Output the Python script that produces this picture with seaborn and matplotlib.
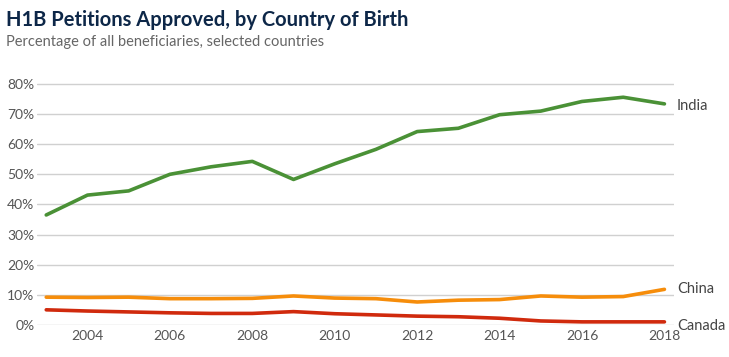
import numpy as np
import pandas as pd
import matplotlib
matplotlib.use("Agg")
import matplotlib.pyplot as plt
import seaborn as sns

# data (percent of beneficiaries)
years = list(range(2003, 2019))
india = [36.5, 43.1, 44.5, 50.0, 52.5, 54.3, 48.3, 53.5, 58.3, 64.2, 65.3, 69.8, 71.0, 74.2, 75.6, 73.4]
china = [9.2, 9.1, 9.2, 8.7, 8.7, 8.8, 9.6, 8.9, 8.7, 7.6, 8.2, 8.4, 9.6, 9.2, 9.4, 11.8]
canada = [5.0, 4.6, 4.3, 4.0, 3.8, 3.8, 4.4, 3.7, 3.3, 2.9, 2.7, 2.2, 1.3, 1.0, 1.0, 1.0]
countries = ["India", "China", "Canada"]
colors = {"India": "#4a9136", "China": "#f68d0b", "Canada": "#d02a0d"}

df = pd.DataFrame({"year": years, "India": india, "China": china, "Canada": canada})
long = df.melt(id_vars="year", var_name="country", value_name="pct")

sns.set_style("white")
plt.rcParams["font.family"] = ["Lato", "DejaVu Sans"]

fig = plt.figure(figsize=(7.29, 3.57), dpi=100)
ax = fig.add_axes([0.051, 0.09, 0.874, 0.70])

sns.lineplot(data=long, x="year", y="pct", hue="country", hue_order=countries,
             palette=colors, linewidth=2.6, legend=False, ax=ax)

ax.set_xlim(2002.78, 2018.24)
ax.set_ylim(0, 83)
ax.set_yticks(range(0, 81, 10))
ax.set_yticklabels([f"{v}%" for v in range(0, 81, 10)])
ax.set_xticks(range(2004, 2019, 2))
ax.grid(axis="y", color="#d0d0d0", linewidth=1)
ax.set_axisbelow(True)
for s in ax.spines.values():
    s.set_visible(False)
ax.tick_params(axis="both", length=0, labelsize=10, colors="#555555")
ax.tick_params(axis="y", pad=2)
ax.tick_params(axis="x", pad=4)
ax.set_xlabel("")
ax.set_ylabel("")

# end labels
for name, vals in zip(countries, [india, china, canada]):
    off = {"India": -0.7, "China": 0.0, "Canada": -1.5}[name]
    ax.text(years[-1] + 0.3, vals[-1] + off, name, va="center", ha="left",
            fontsize=10.5, color="#444444", clip_on=False)

fig.text(0.008, 0.945, "H1B Petitions Approved, by Country of Birth", fontsize=14.5,
         fontweight="bold", color="#0d2748", ha="left", va="center")
fig.text(0.008, 0.882, "Percentage of all beneficiaries, selected countries", fontsize=10.5,
         color="#666666", ha="left", va="center")

fig.savefig("out.png", dpi=100)
